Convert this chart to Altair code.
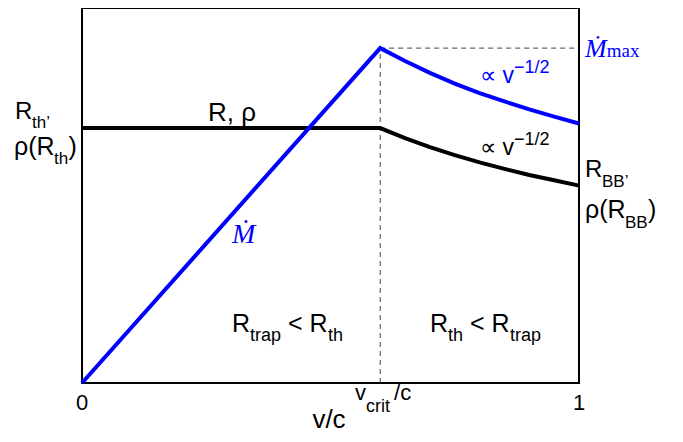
import altair as alt
import pandas as pd

# ---- data ----
x_rise = [0.0, 0.6]
mdot_rise = [0.0, 0.879]
x_fall = [0.6, 0.65, 0.7, 0.75, 0.8, 0.85, 0.9, 0.95, 1.0]
mdot_fall = [0.879, 0.845, 0.814, 0.786, 0.761, 0.739, 0.718, 0.699, 0.681]
x_flat = [0.0, 0.6]
r_flat = [0.669, 0.669]
r_fall = [0.669, 0.643, 0.619, 0.598, 0.579, 0.562, 0.546, 0.532, 0.518]
v_crit = 0.6

blue = "#0000ff"
SANS = "Liberation Sans"
SERIF = "Liberation Serif"

mdot_df = pd.DataFrame({"x": x_rise + x_fall[1:], "y": mdot_rise + mdot_fall[1:]})
r_df = pd.DataFrame({"x": x_flat + x_fall[1:], "y": r_flat + r_fall[1:]})
dash_df = pd.DataFrame({
    "x": [v_crit, v_crit], "x2": [v_crit, 1.0],
    "y": [0.0, mdot_rise[1]], "y2": [mdot_rise[1], mdot_rise[1]],
})

XS = alt.Scale(domain=[0, 1], nice=False, zero=False)
YS = alt.Scale(domain=[0, 0.9843], nice=False, zero=False)


def X(f="x"):
    return alt.X(f"{f}:Q", scale=XS, axis=None)


def Y(f="y"):
    return alt.Y(f"{f}:Q", scale=YS, axis=None)


# annotations: text, x, y (data units), font size, colour, family, style, align
ann = [
    # left label
    ("R", -0.135, 0.693, 24, "black", SANS, "normal", "left"),
    ("th\u2019", -0.1006, 0.669, 17, "black", SANS, "normal", "left"),
    ("\u03c1(R", -0.1368, 0.598, 25, "black", SANS, "normal", "left"),
    ("th", -0.0564, 0.575, 17, "black", SANS, "normal", "left"),
    (")", -0.0272, 0.598, 25, "black", SANS, "normal", "left"),
    # R, rho
    ("R, \u03c1", 0.2535, 0.688, 26, "black", SANS, "normal", "left"),
    # Mdot
    ("\u1e40", 0.302, 0.367, 28, blue, SERIF, "italic", "left"),
    # proportional labels
    ("\u221d v", 0.801, 0.787, 23, blue, SANS, "normal", "left"),
    ("\u22121/2", 0.869, 0.814, 18, blue, SANS, "normal", "left"),
    ("\u221d v", 0.801, 0.598, 23, "black", SANS, "normal", "left"),
    ("\u22121/2", 0.869, 0.625, 18, "black", SANS, "normal", "left"),
    # Mdot max
    ("\u1e40", 1.012, 0.856, 26, blue, SERIF, "italic", "left"),
    ("max", 1.056, 0.856, 19, blue, SERIF, "normal", "left"),
    # right label
    ("R", 1.012, 0.541, 24, "black", SANS, "normal", "left"),
    ("BB\u2019", 1.0463, 0.514, 17, "black", SANS, "normal", "left"),
    ("\u03c1(R", 1.012, 0.433, 25, "black", SANS, "normal", "left"),
    ("BB", 1.0925, 0.407, 17, "black", SANS, "normal", "left"),
    (")", 1.1388, 0.433, 25, "black", SANS, "normal", "left"),
    # regimes
    ("R", 0.302, 0.134, 25, "black", SANS, "normal", "left"),
    ("trap", 0.338, 0.110, 18, "black", SANS, "normal", "left"),
    ("< R", 0.4145, 0.134, 25, "black", SANS, "normal", "left"),
    ("th", 0.495, 0.110, 18, "black", SANS, "normal", "left"),
    ("R", 0.700, 0.134, 25, "black", SANS, "normal", "left"),
    ("th", 0.7364, 0.110, 18, "black", SANS, "normal", "left"),
    ("< R", 0.7807, 0.134, 25, "black", SANS, "normal", "left"),
    ("trap", 0.8612, 0.110, 18, "black", SANS, "normal", "left"),
    # x tick labels and title
    ("0", 0.0, -0.0709, 22, "black", SANS, "normal", "center"),
    ("1", 1.0, -0.0709, 22, "black", SANS, "normal", "center"),
    ("v", 0.5493, -0.0446, 22, "black", SANS, "normal", "left"),
    ("crit", 0.5714, -0.0761, 18, "black", SANS, "normal", "left"),
    ("/c", 0.6278, -0.0446, 22, "black", SANS, "normal", "left"),
    ("v/c", 0.497, -0.119, 26, "black", SANS, "normal", "center"),
]
ann_df = pd.DataFrame(ann, columns=["text", "x", "y", "size", "color", "family", "style", "align"])

layers = []
dash = alt.Chart(dash_df).mark_rule(color="#444444", strokeWidth=1, strokeDash=[5, 4]).encode(
    x=X(), x2="x2:Q", y=Y(), y2="y2:Q"
)
layers.append(dash)
rline = alt.Chart(r_df).mark_line(color="black", strokeWidth=4, strokeJoin="miter").encode(
    x=X(), y=Y(), order="x:Q"
)
mline = alt.Chart(mdot_df).mark_line(color=blue, strokeWidth=4, strokeJoin="miter").encode(
    x=X(), y=Y(), order="x:Q"
)
layers += [rline, mline]

for (fam, sty, al), sub in ann_df.groupby(["family", "style", "align"]):
    layers.append(
        alt.Chart(sub.reset_index(drop=True)).mark_text(
            font=fam, fontStyle=sty, align=al, baseline="alphabetic"
        ).encode(
            x=X(), y=Y(), text="text:N",
            size=alt.Size("size:Q", scale=None),
            color=alt.Color("color:N", scale=None),
        )
    )

chart = alt.layer(*layers).properties(
    width=497, height=375,
    padding={"left": 74, "top": 0, "right": 95, "bottom": 51},
    autosize="none",
    background="white",
).configure_view(stroke="black", strokeWidth=2)

chart.save("out.html", embed_options={"renderer": "svg", "actions": False})
